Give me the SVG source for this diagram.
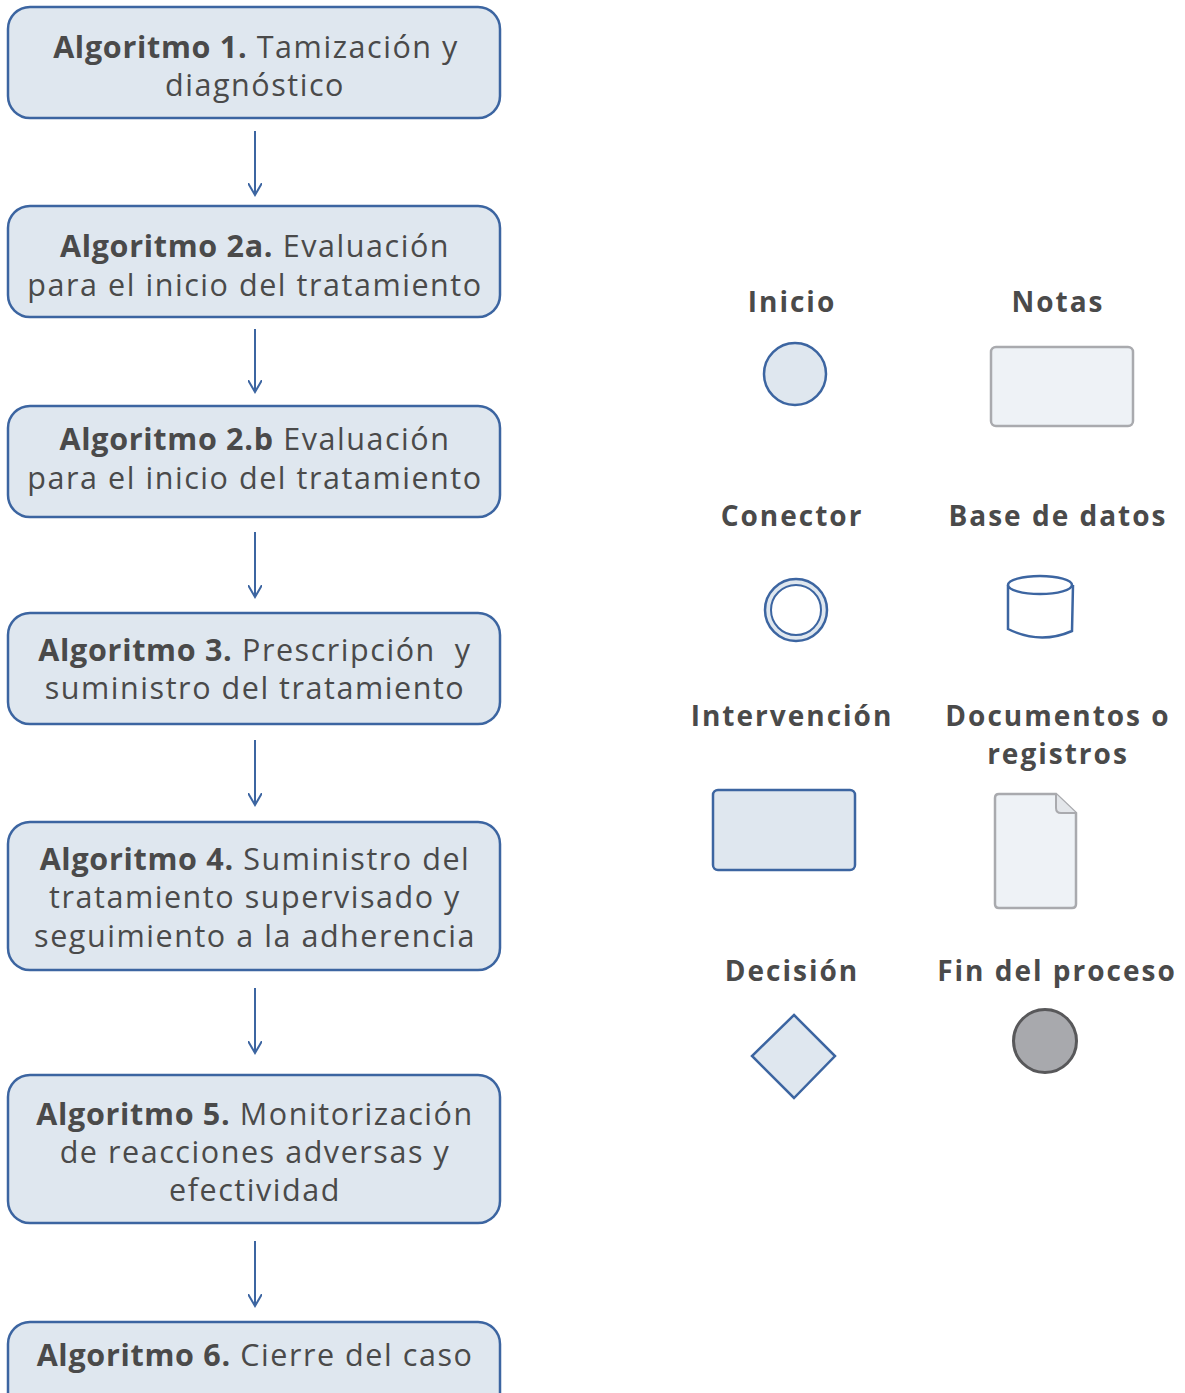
<svg xmlns="http://www.w3.org/2000/svg" width="1185" height="1393" viewBox="0 0 1185 1393">
<style>
.box{fill:#dfe7ef;stroke:#3c65a1;stroke-width:2.5}
.t{font-family:"Open Sans","Noto Sans",sans-serif;font-size:30.5px;fill:#4a4a4a;text-anchor:middle;letter-spacing:1.55px}
.b{font-weight:bold;letter-spacing:0.7px}
.lg{font-family:"Open Sans","Noto Sans",sans-serif;font-size:28px;font-weight:bold;fill:#4a4a4a;text-anchor:middle;letter-spacing:2px}
.conn{stroke:#3c65a1;stroke-width:2;fill:none}
.blue{fill:#dfe7ef;stroke:#3c65a1;stroke-width:2.5}
.gray{fill:#eef2f6;stroke:#a9aaae;stroke-width:2.5}
</style>
<defs>
<marker id="ah" markerWidth="14" markerHeight="14" viewBox="0 0 14 14" refX="12" refY="7" orient="auto" markerUnits="userSpaceOnUse">
<path d="M0,0 L12,7 L0,14" fill="none" stroke="#3c65a1" stroke-width="2"/>
</marker>
</defs>
<g id="connectors">
<path class="conn" d="M255,131 V195" marker-end="url(#ah)"/>
<path class="conn" d="M255,329 V392" marker-end="url(#ah)"/>
<path class="conn" d="M255,532 V597" marker-end="url(#ah)"/>
<path class="conn" d="M255,740 V805" marker-end="url(#ah)"/>
<path class="conn" d="M255,988 V1053" marker-end="url(#ah)"/>
<path class="conn" d="M255,1241 V1306" marker-end="url(#ah)"/>
</g>
<g id="alg1">
<rect class="box" x="8" y="7" width="492" height="111" rx="22"/>
<text class="t" x="256" y="58"><tspan class="b">Algoritmo 1.</tspan> Tamización y</text>
<text class="t" x="255" y="96">diagnóstico</text>
</g>
<g id="alg2a">
<rect class="box" x="8" y="206" width="492" height="111" rx="22"/>
<text class="t" x="255" y="257"><tspan class="b">Algoritmo 2a.</tspan> Evaluación</text>
<text class="t" x="255" y="296">para el inicio del tratamiento</text>
</g>
<g id="alg2b">
<rect class="box" x="8" y="406" width="492" height="111" rx="22"/>
<text class="t" x="255" y="450"><tspan class="b">Algoritmo 2.b</tspan> Evaluación</text>
<text class="t" x="255" y="489">para el inicio del tratamiento</text>
</g>
<g id="alg3">
<rect class="box" x="8" y="613" width="492" height="111" rx="22"/>
<text class="t" x="255" y="661" xml:space="preserve"><tspan class="b">Algoritmo 3.</tspan> Prescripción  y</text>
<text class="t" x="255" y="699">suministro del tratamiento</text>
</g>
<g id="alg4">
<rect class="box" x="8" y="822" width="492" height="148" rx="22"/>
<text class="t" x="255" y="870"><tspan class="b">Algoritmo 4.</tspan> Suministro del</text>
<text class="t" x="255" y="908">tratamiento supervisado y</text>
<text class="t" x="255" y="947">seguimiento a la adherencia</text>
</g>
<g id="alg5">
<rect class="box" x="8" y="1075" width="492" height="148" rx="22"/>
<text class="t" x="255" y="1125"><tspan class="b">Algoritmo 5.</tspan> Monitorización</text>
<text class="t" x="255" y="1163">de reacciones adversas y</text>
<text class="t" x="255" y="1201">efectividad</text>
</g>
<g id="alg6">
<rect class="box" x="8" y="1322" width="492" height="100" rx="22"/>
<text class="t" x="255" y="1366"><tspan class="b">Algoritmo 6.</tspan> Cierre del caso</text>
</g>
<g id="legend-inicio">
<text class="lg" x="792" y="312">Inicio</text>
<circle class="blue" cx="795" cy="374" r="31"/>
</g>
<g id="legend-notas">
<text class="lg" x="1058" y="312">Notas</text>
<rect class="gray" x="991" y="347" width="142" height="79" rx="5"/>
</g>
<g id="legend-conector">
<text class="lg" x="792" y="526">Conector</text>
<circle class="blue" cx="796" cy="610" r="31"/>
<circle cx="796" cy="610" r="25" fill="#fff" stroke="#3c65a1" stroke-width="2"/>
</g>
<g id="legend-bd">
<text class="lg" x="1058" y="526">Base de datos</text>
<path d="M1008,585 V629 Q1040,645 1072,631 L1073,585" fill="#fff" stroke="#3c65a1" stroke-width="2.5"/>
<ellipse cx="1040" cy="585" rx="32" ry="9" fill="#fff" stroke="#3c65a1" stroke-width="2.5"/>
</g>
<g id="legend-intervencion">
<text class="lg" x="792" y="726">Intervención</text>
<rect class="blue" x="713" y="790" width="142" height="80" rx="5"/>
</g>
<g id="legend-documentos">
<text class="lg" x="1058" y="726">Documentos o</text>
<text class="lg" x="1058" y="764">registros</text>
<path class="gray" d="M999,794 H1056 L1076,813 V904 Q1076,908 1072,908 H999 Q995,908 995,904 V798 Q995,794 999,794 Z"/>
<path d="M1056,794 V808 Q1056,813 1061,813 H1076" fill="#e3e6ea" stroke="#a9aaae" stroke-width="2"/>
</g>
<g id="legend-decision">
<text class="lg" x="792" y="981">Decisión</text>
<polygon class="blue" points="794,1015 835,1056 794,1098 752,1056"/>
</g>
<g id="legend-fin">
<text class="lg" x="1057" y="981">Fin del proceso</text>
<circle cx="1045" cy="1041" r="31.5" fill="#a8a9ad" stroke="#58585a" stroke-width="3"/>
</g>
</svg>
